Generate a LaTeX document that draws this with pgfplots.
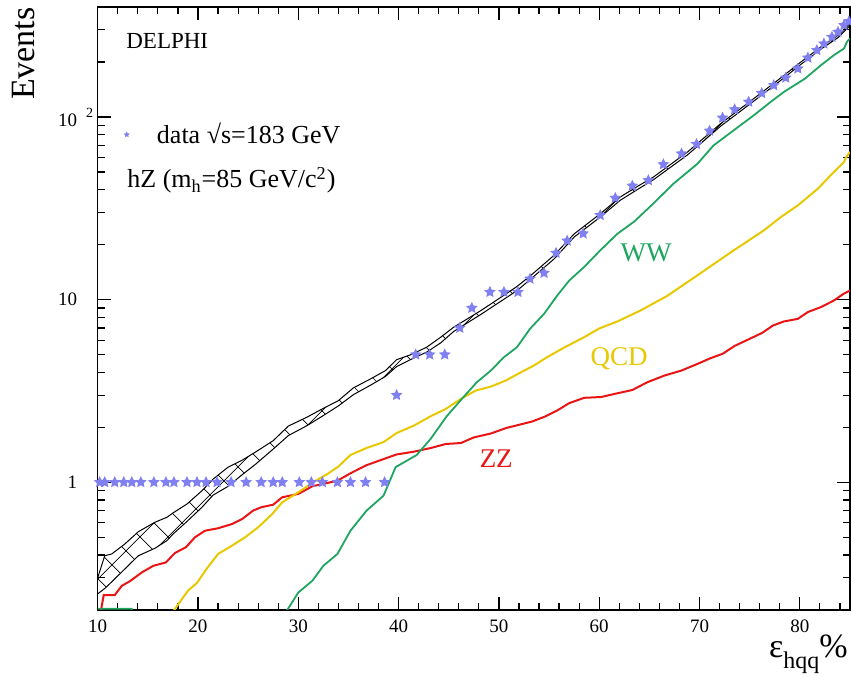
\documentclass[border=0pt]{standalone}
\usepackage{fontspec}
\setmainfont{Liberation Serif}
\usepackage{pgfplots}
\pgfplotsset{compat=1.18}
\usepgfplotslibrary{fillbetween}
\usetikzlibrary{patterns.meta}

\definecolor{zzred}{RGB}{235,20,20}
\definecolor{wwgreen}{RGB}{30,165,95}
\definecolor{qcdyellow}{RGB}{232,200,0}
\definecolor{starblue}{RGB}{128,128,240}

% sparse diagonal cross-hatching for the signal band
\tikzdeclarepattern{
  name=bandgrid,
  type=uncolored,
  bottom left={(-0.5pt,-0.5pt)},
  top right={(14.5pt,14.5pt)},
  tile size={(14pt,14pt)},
  code={
    \draw[line width=0.35pt] (0pt,0pt) -- (14pt,14pt);
    \draw[line width=0.35pt] (0pt,14pt) -- (14pt,0pt);
  }
}

% filled five-pointed star
\pgfdeclareplotmark{fstar}{%
  \pgfpathmoveto{\pgfpointpolar{90}{\pgfplotmarksize}}%
  \pgfpathlineto{\pgfpointpolar{126}{0.48\pgfplotmarksize}}%
  \pgfpathlineto{\pgfpointpolar{162}{\pgfplotmarksize}}%
  \pgfpathlineto{\pgfpointpolar{198}{0.48\pgfplotmarksize}}%
  \pgfpathlineto{\pgfpointpolar{234}{\pgfplotmarksize}}%
  \pgfpathlineto{\pgfpointpolar{270}{0.48\pgfplotmarksize}}%
  \pgfpathlineto{\pgfpointpolar{306}{\pgfplotmarksize}}%
  \pgfpathlineto{\pgfpointpolar{342}{0.48\pgfplotmarksize}}%
  \pgfpathlineto{\pgfpointpolar{18}{\pgfplotmarksize}}%
  \pgfpathlineto{\pgfpointpolar{54}{0.48\pgfplotmarksize}}%
  \pgfpathclose
  \pgfusepathqfill
}

\begin{document}
\begin{tikzpicture}
\begin{axis}[
  scale only axis,
  width=376.2pt, height=301.5pt,
  xmin=10, xmax=85,
  ymode=log, ymin=0.2, ymax=400,
  axis line style={line width=0.7pt},
  every tick/.style={line width=0.6pt, black},
  major tick length=6.5pt, minor tick length=3.5pt,
  tick align=inside, tick pos=both,
  xticklabel pos=lower, yticklabel pos=left,
  xtick={10,20,30,40,50,60,70,80},
  xticklabels={10,20,30,40,50,60,70,80},
  minor xtick={12,14,16,18,22,24,26,28,32,34,36,38,42,44,46,48,52,54,56,58,62,64,66,68,72,74,76,78,82,84},
  ytick={1,10,100},
  yticklabels={1,10,{10\rlap{\hspace{4.5pt}\raisebox{4.5pt}{\fontsize{7}{7}\selectfont 2}}\hspace{1.3pt}}},
  minor ytick={0.2,0.3,0.4,0.5,0.6,0.7,0.8,0.9,2,3,4,5,6,7,8,9,20,30,40,50,60,70,80,90,200,300,400},
  ticklabel style={font=\fontsize{9.5}{11}\selectfont},
  xticklabel style={yshift=-1.5pt},
  yticklabel style={xshift=-6.8pt},
  legend style={at={(0,1)}, anchor=west, xshift=13pt, yshift=-63.8pt,
    draw=none, fill=none, inner sep=0pt, outer sep=0pt,
    font=\fontsize{13}{15}\selectfont, column sep=13.6pt,
    nodes={inner sep=0pt}},
  legend cell align=left,
]
\addlegendimage{only marks, mark=fstar, mark size=1.6pt, starblue}
\addlegendentry{data \char"221A s=183 GeV}

% hZ expectation band
\addplot[black, line width=0.5pt, name path=up] coordinates {
(10.0,0.30)(10.7,0.396)(11.4,0.405)(12.7,0.459)(14.05,0.536)(15.7,0.604)
(16.9,0.643)(17.5,0.679)(18.9,0.760)(20.4,0.899)(21.5,1.04)(23.0,1.21)
(24.4,1.32)(25.7,1.46)(27.5,1.69)(29.0,2.03)(30.85,2.27)(32.5,2.54)
(34.0,2.80)(35.5,3.29)(37.2,3.68)(38.7,4.09)(39.8,4.69)(41.2,4.99)
(42.8,5.49)(44.2,6.23)(45.5,7.07)(48.2,8.71)(50.2,10.3)(51.8,11.8)
(53.2,13.6)(55.5,17.5)(57.5,22.9)(60.1,29.5)(62.1,36.5)(64.1,42.6)
(65.4,46.9)(68.8,64.3)(72.1,91.9)(75.4,126)(77.8,159)(80.1,200)
(82.1,242)(83.8,280)(85.0,325)};
\addplot[black, line width=0.5pt, name path=lo] coordinates {
(10.0,0.245)(10.7,0.262)(11.4,0.285)(12.7,0.335)(14.05,0.396)(15.7,0.435)
(16.9,0.479)(17.5,0.52)(18.9,0.61)(20.4,0.73)(21.5,0.85)(23.0,0.95)
(24.4,1.10)(25.7,1.25)(27.5,1.52)(29.0,1.80)(30.85,2.04)(32.5,2.32)
(34.0,2.62)(35.5,3.02)(37.2,3.40)(38.7,3.80)(39.8,4.30)(41.2,4.70)
(42.8,5.16)(44.2,5.80)(45.5,6.7)(48.2,8.3)(50.2,9.8)(51.8,11.2)
(53.2,13.0)(55.5,16.7)(57.5,22.0)(60.1,28.3)(62.1,35.0)(64.1,41.0)
(65.4,45.3)(68.8,62.0)(72.1,89)(75.4,122)(77.8,154)(80.1,194)
(82.1,235)(83.8,272)(85.0,316)};
\addplot[pattern=bandgrid, pattern color=black] fill between[of=up and lo];

% ZZ
\addplot[zzred, line width=1pt] coordinates {
(10.3,0.195)(10.6,0.241)(11.7,0.241)(12.4,0.271)(13.2,0.287)(14.4,0.321)
(15.55,0.349)(16.8,0.364)(17.7,0.410)(18.8,0.441)(19.7,0.50)(20.7,0.543)
(22.0,0.560)(23.4,0.591)(24.4,0.629)(25.5,0.70)(26.3,0.73)(27.5,0.754)
(28.4,0.828)(30.0,0.863)(31.4,0.951)(32.5,0.98)(33.9,1.02)(35.2,1.12)
(36.8,1.24)(38.5,1.34)(39.8,1.42)(41.5,1.47)(43.2,1.54)(44.7,1.62)
(46.2,1.64)(47.5,1.76)(49.2,1.85)(50.7,1.98)(52.1,2.07)(53.3,2.15)
(54.6,2.29)(55.8,2.47)(57.0,2.71)(58.5,2.90)(60.2,2.93)(61.8,3.07)
(63.3,3.20)(64.8,3.53)(66.5,3.84)(68.2,4.09)(69.8,4.45)(71.1,4.78)
(72.3,5.05)(73.5,5.58)(75.0,6.1)(76.3,6.6)(77.3,7.21)(78.4,7.59)
(79.8,7.85)(80.8,8.55)(82.1,9.1)(83.4,9.89)(84.4,10.8)(85,11.2)};

% QCD
\addplot[qcdyellow, line width=1pt] coordinates {
(17.35,0.19)(19.0,0.255)(19.9,0.281)(20.9,0.338)(22.0,0.405)(23.4,0.450)
(24.7,0.50)(26.0,0.567)(27.4,0.67)(28.4,0.777)(30.0,0.881)(31.5,1.0)
(32.9,1.11)(34.0,1.22)(35.2,1.41)(36.8,1.54)(38.5,1.66)(39.8,1.86)
(41.5,2.04)(43.2,2.30)(44.7,2.52)(46.2,2.86)(47.7,3.18)(49.2,3.34)
(50.7,3.61)(52.0,3.95)(53.5,4.36)(54.8,4.84)(56.6,5.5)(58.5,6.23)
(60.0,6.95)(61.8,7.59)(64.1,8.71)(66.8,10.5)(69.8,13.6)(73.4,18.6)
(76.4,23.9)(78.1,28.3)(79.8,32.8)(81.8,40.5)(83.4,50)(84.4,56.7)
(84.6,60)(85,64.3)};

% WW
\addplot[wwgreen, line width=0.9pt] coordinates {
(10,0.203)(13.4,0.203)(13.6,0.1)(28.3,0.1)(28.9,0.2)(30.0,0.249)
(31.4,0.289)(32.5,0.349)(33.9,0.405)(35.2,0.543)(36.8,0.699)(38.5,0.845)
(39.7,1.21)(41.8,1.41)(43.2,1.73)(44.8,2.30)(46.3,2.86)(47.8,3.53)
(49.2,4.09)(50.5,4.84)(51.8,5.49)(53.1,6.92)(54.5,8.36)(55.8,10.5)
(57.0,12.7)(58.5,15.1)(60.1,18.6)(61.8,22.9)(63.5,26.8)(65.2,32.8)
(67.4,43.1)(69.8,55.5)(71.4,69.9)(73.4,84.5)(75.4,102)(77.1,121)
(78.4,137)(80.5,162)(82.1,192)(83.4,218)(84.4,237)(84.7,258)(85,269)};

% selected data events
\addplot[only marks, mark=fstar, mark size=3.1pt, starblue] coordinates {
(10.2,1)(10.7,1)(11.7,1)(12.6,1)(13.4,1)(14.3,1)(15.6,1)(16.8,1)(17.6,1)
(18.9,1)(19.9,1)(20.8,1)(21.9,1)(23.3,1)(24.8,1)(26.3,1)(27.5,1)(28.4,1)
(30.1,1)(31.3,1)(32.4,1)(33.9,1)(35.2,1)(36.7,1)(38.6,1)(39.8,3)
(41.7,5)(43.1,5)(44.6,5)(46.1,7)(47.3,9)(49.1,11)(50.5,11)(51.9,11)
(53.1,13)(54.5,14)(55.7,18)(56.8,21)(58.4,23)(60.1,29)(61.6,36)
(63.3,42)(64.9,45)(66.4,55)(68.2,63)(69.7,71)(71.0,84)(72.3,99)
(73.5,110)(74.9,121)(76.2,135)(77.4,149)(78.6,164)(79.8,184)(80.8,211)
(81.7,232)(82.4,252)(83.2,274)(83.8,292)(84.4,318)(84.9,334)};

\node[anchor=base west, inner sep=0pt, text=wwgreen, font=\fontsize{13.5}{15}\selectfont] at (axis cs:62.1,16.1) {WW};
\node[anchor=base west, inner sep=0pt, text=qcdyellow, font=\fontsize{13.5}{15}\selectfont] at (axis cs:59.1,4.35) {QCD};
\node[anchor=base west, inner sep=0pt, text=zzred, font=\fontsize{13.5}{15}\selectfont] at (axis cs:48.05,1.21) {ZZ};
\end{axis}

% annotations around the frame (axis box spans (0,0) to (376.2pt,301.5pt))
\path (14.15pt,280.85pt) node[anchor=base west, inner sep=0pt, font=\fontsize{11.5}{13}\selectfont] {DELPHI};
\path (14.65pt,211pt) node[anchor=base west, inner sep=0pt, font=\fontsize{13}{15}\selectfont] {hZ (m\textsubscript{h}=85 GeV/c\textsuperscript{2})};
\path (-37.3pt,301.5pt) node[rotate=90, anchor=east, inner sep=0pt, font=\fontsize{17}{19}\selectfont] {Events};
\path (375.2pt,-24pt) node[anchor=base east, inner sep=0pt, font=\fontsize{17}{19}\selectfont] {ε\raisebox{-5.5pt}{\fontsize{12}{12}\selectfont hqq}\%};

\pgfresetboundingbox
\path[use as bounding box] (-48.85pt,-33.5pt) rectangle (376.7pt,305pt);
\end{tikzpicture}
\end{document}
